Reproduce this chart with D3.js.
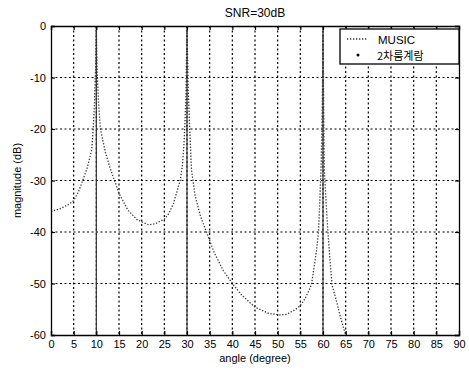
<!DOCTYPE html>
<html><head><meta charset="utf-8">
<script src="https://cdn.jsdelivr.net/npm/d3@7"></script>
<style>
body{margin:0;background:#fff;}
svg{display:block;font-family:"Liberation Sans",Arial,sans-serif;}
</style></head>
<body><svg id="c" width="469" height="370"></svg>
<script>
// ---- data ----
const title = "SNR=30dB";
const xLabel = "angle (degree)";
const yLabel = "magnitude (dB)";
const xTicks = [0,5,10,15,20,25,30,35,40,45,50,55,60,65,70,75,80,85,90];
const yTicks = [0,-10,-20,-30,-40,-50,-60];
const seriesNames = ["MUSIC", "2차룸계람"];
const musicAngles = [0,2,4,5,6,7,8,9,9.3,9.6,9.85,10,10.15,10.5,10.9,11.5,12,13,14,15,17,19,21.5,23,25,26,27,28,28.5,29,29.4,29.75,30,30.25,30.6,31,31.8,33,34.5,36,38,40,42,45,48,50.5,52,54,55,56,57,57.5,58.5,59,59.3,59.6,59.85,60,60.15,60.3,60.6,61,61.5,62,63,63.8,64.5,65];
const musicValues = [-36,-35.5,-34.6,-33.9,-32.3,-30,-27.5,-24,-20,-15,-8,0,-8,-15,-20,-22.5,-24.5,-27.5,-30,-32.5,-35.8,-37.6,-38.6,-38.4,-37.5,-36.4,-34.5,-31.5,-30,-27,-22,-14,0,-12,-20,-28,-33,-37,-40.5,-44,-47.5,-50,-52.2,-54.6,-55.8,-56.1,-56,-55,-54.3,-53,-51.2,-50,-44,-40,-34,-27,-15,0,-15,-28,-33,-39,-45,-50.3,-53.5,-56.4,-58.5,-60];
const estimates = [10, 30, 60];

// ---- layout ----
const svg = d3.select("#c");
const L = 51, R = 459, T = 26, B = 335;
const x = d3.scaleLinear().domain([0,90]).range([L,R]);
const y = d3.scaleLinear().domain([-60,0]).range([B,T]);

// grid
const g = svg.append("g");
g.selectAll(".gx").data(xTicks.slice(1,-1)).enter().append("line")
  .attr("x1",d=>x(d)).attr("x2",d=>x(d)).attr("y1",T).attr("y2",B)
  .attr("stroke","#000").attr("stroke-width",1.2).attr("stroke-dasharray","2,2.5");
g.selectAll(".gy").data(yTicks.slice(1,-1)).enter().append("line")
  .attr("x1",L).attr("x2",R).attr("y1",d=>y(d)).attr("y2",d=>y(d))
  .attr("stroke","#000").attr("stroke-width",1.2).attr("stroke-dasharray","2,2.5");

// estimates (solid vertical lines)
svg.selectAll(".est").data(estimates).enter().append("line")
  .attr("x1",d=>x(d)).attr("x2",d=>x(d)).attr("y1",y(0)).attr("y2",y(-60))
  .attr("stroke","#333").attr("stroke-width",1.2);

// MUSIC curve
const pts = musicAngles.map((a,i)=>[a,musicValues[i]]);
svg.append("path").datum(pts)
  .attr("d", d3.line().x(d=>x(d[0])).y(d=>y(d[1])))
  .attr("fill","none").attr("stroke","#333").attr("stroke-width",1.3)
  .attr("stroke-dasharray","1.3,1.7");

// axes
const fs = "11px";
const ax = svg.append("g").attr("transform",`translate(0,${B})`)
  .call(d3.axisBottom(x).tickValues(xTicks).tickSize(-4).tickPadding(5).tickFormat(d3.format("d")));
const ay = svg.append("g").attr("transform",`translate(${L},0)`)
  .call(d3.axisLeft(y).tickValues(yTicks).tickSize(-4).tickPadding(5).tickFormat(d=>d));
const axT = svg.append("g").attr("transform",`translate(0,${T})`)
  .call(d3.axisTop(x).tickValues(xTicks).tickSize(-4).tickFormat(""));
const ayR = svg.append("g").attr("transform",`translate(${R},0)`)
  .call(d3.axisRight(y).tickValues(yTicks).tickSize(-4).tickFormat(""));
[ax,ay,axT,ayR].forEach(a=>{
  a.selectAll("path").attr("stroke","#000").attr("stroke-width",1.3);
  a.selectAll("line").attr("stroke","#000").attr("stroke-width",1.2);
  a.selectAll("text").attr("font-size",fs).attr("fill","#000")
    .attr("font-family","'Liberation Sans',Arial,sans-serif");
});

// title & labels
svg.append("text").attr("x",(L+R)/2).attr("y",17).attr("text-anchor","middle")
  .attr("font-size","12px").text(title);
svg.append("text").attr("x",(L+R)/2).attr("y",362).attr("text-anchor","middle")
  .attr("font-size","11px").text(xLabel);
svg.append("text").attr("transform",`translate(21,${(T+B)/2}) rotate(-90)`)
  .attr("text-anchor","middle").attr("font-size","11px").text(yLabel);

// legend
const lg = svg.append("g");
lg.append("rect").attr("x",340).attr("y",29).attr("width",119).attr("height",35)
  .attr("fill","#fff").attr("stroke","#000").attr("stroke-width",1.3);
lg.append("line").attr("x1",347).attr("x2",368).attr("y1",39).attr("y2",39)
  .attr("stroke","#333").attr("stroke-width",1.3).attr("stroke-dasharray","1.3,1.7");
lg.append("text").attr("x",378).attr("y",44).attr("font-size","11.5px").text(seriesNames[0]);
lg.append("circle").attr("cx",358).attr("cy",55).attr("r",1.5).attr("fill","#000");
lg.append("text").attr("x",377).attr("y",59.5).attr("font-size","11px")
  .attr("font-family","'Noto Sans CJK KR',sans-serif").text(seriesNames[1]);
</script></body></html>
